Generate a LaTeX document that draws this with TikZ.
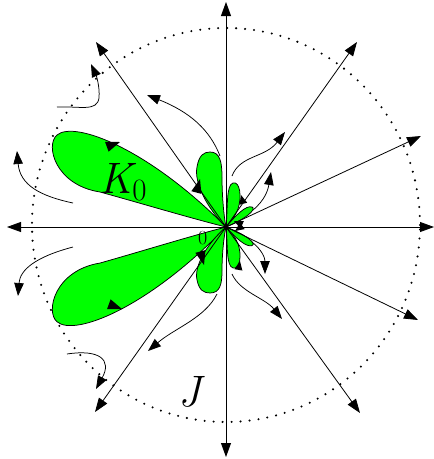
\documentclass[tikz,border=0pt]{standalone}
\usetikzlibrary{arrows.meta}
\definecolor{lobegreen}{RGB}{0,255,0}
\tikzset{
 ray/.style={line width=0.8pt, -{Triangle[length=14pt,width=10pt]}},
 flow/.style={line width=0.75pt, -{Triangle[length=13pt,width=9.5pt]}},
 lobe/.style={fill=lobegreen, draw=black, line width=0.75pt},
 dotring/.style={line width=2.3pt, dash pattern=on 0pt off 9pt, line cap=round},
 bigtri/.pic={\fill (0,0) -- (-14,5.2) -- (-14,-5.2) -- cycle;},
 smalltri/.pic={\fill (0,0) -- (-9,4) -- (-9,-4) -- cycle;},
}
\begin{document}
\begin{tikzpicture}[x=1pt,y=-1pt]
\useasboundingbox (0,0) rectangle (434,459);
\coordinate (O) at (226,227);
% dotted circle
\draw[dotring] (226,225) ellipse [x radius=194pt, y radius=197pt];
% lobes
\begin{scope}[shift={(O)}]
 \path[lobe] (0,0) .. controls (-76,-77) and (-151,-107) .. (-169,-92)
   .. controls (-181,-82) and (-171,-42) .. (-126,-35)
   .. controls (-86,-24) and (-36,-9) .. (0,0);
 \path[lobe] (0,0) .. controls (-20,-20) and (-32,-45) .. (-29,-60)
   .. controls (-27,-72) and (-22,-75) .. (-16,-75)
   .. controls (-6,-75) and (-4,-65) .. (-4,-50)
   .. controls (-4,-30) and (-2,-10) .. (0,0);
 \path[lobe] (0,0) .. controls (2,-20) and (0,-42) .. (7,-44)
   .. controls (14,-46) and (16,-30) .. (12,-18)
   .. controls (8,-8) and (3,-3) .. (0,0);
 \path[lobe] (0,0) .. controls (10,-12) and (20,-22) .. (26,-20)
   .. controls (31,-18) and (20,-8) .. (0,0);
\end{scope}
\begin{scope}[shift={(O)}, yscale=-1.03]
 \path[lobe] (0,0) .. controls (-76,-77) and (-151,-107) .. (-169,-92)
   .. controls (-181,-82) and (-171,-42) .. (-126,-35)
   .. controls (-86,-24) and (-36,-9) .. (0,0);
\end{scope}
\begin{scope}[shift={(O)}, yscale=-0.88]
 \path[lobe] (0,0) .. controls (-20,-20) and (-32,-45) .. (-29,-60)
   .. controls (-27,-72) and (-22,-75) .. (-16,-75)
   .. controls (-6,-75) and (-4,-65) .. (-4,-50)
   .. controls (-4,-30) and (-2,-10) .. (0,0);
\end{scope}
\begin{scope}[shift={(O)}, yscale=-0.93]
 \path[lobe] (0,0) .. controls (2,-20) and (0,-42) .. (7,-44)
   .. controls (14,-46) and (16,-30) .. (12,-18)
   .. controls (8,-8) and (3,-3) .. (0,0);
 \path[lobe] (0,0) .. controls (10,-12) and (20,-22) .. (26,-20)
   .. controls (31,-18) and (20,-8) .. (0,0);
\end{scope}
% axes and rays
\coordinate (axL) at (7,227);
\coordinate (axR) at (434,227);
\coordinate (axT) at (226,2);
\coordinate (axB) at (226,457);
\coordinate (r125) at (96,42);
\coordinate (r55) at (357,42);
\coordinate (r25) at (421,136);
\coordinate (rm25) at (418,320);
\coordinate (rm55) at (360,413);
\coordinate (rm125) at (95,412);
\foreach \e in {axL,axR,axT,axB,r125,r55,r25,rm25,rm55,rm125}
  \draw[ray] (O) -- (\e);
% flow curves
\coordinate (c1s) at (220,156); \coordinate (c1e) at (147,95);
\coordinate (c2s) at (57,107);  \coordinate (c2e) at (91,64);
\coordinate (c3s) at (73,203);  \coordinate (c3e) at (17,151);
\coordinate (c4s) at (73,247);  \coordinate (c4e) at (18,296);
\coordinate (c5s) at (67,354);  \coordinate (c5e) at (96,389);
\coordinate (c6s) at (217,294); \coordinate (c6e) at (148,351);
\coordinate (c7s) at (232,274); \coordinate (c7e) at (282,319);
\coordinate (c8s) at (252,242); \coordinate (c8e) at (265,274);
\coordinate (c9s) at (232,176); \coordinate (c9e) at (285,132);
\coordinate (c10s) at (253,210); \coordinate (c10e) at (271,172);
\draw[flow] (c1s) .. controls (210,130) and (190,112) .. (c1e);
\draw[flow] (c2s) .. controls (80,106) and (97,112) .. (99,98) .. controls (100,86) and (96,75) .. (c2e);
\draw[flow] (c3s) .. controls (40,196) and (20,185) .. (c3e);
\draw[flow] (c4s) .. controls (35,257) and (20,270) .. (c4e);
\draw[flow] (c5s) .. controls (100,349) and (112,360) .. (c5e);
\draw[flow] (c6s) .. controls (205,318) and (175,328) .. (c6e);
\draw[flow] (c7s) .. controls (240,292) and (265,298) .. (c7e);
\draw[flow] (c8s) .. controls (262,250) and (265,258) .. (c8e);
\draw[flow] (c9s) .. controls (240,155) and (265,158) .. (c9e);
\draw[flow] (c10s) .. controls (265,200) and (268,190) .. (c10e);
% arrowheads on lobes
\pic[rotate=20] at (120,142) {bigtri};
\pic[rotate=-20] at (122,309) {bigtri};
\pic[rotate=75] at (200,179) {bigtri};
\pic[rotate=-75] at (204,265) {bigtri};
\pic[rotate=105] at (241,195) {smalltri};
\pic[rotate=80] at (240,261) {smalltri};
\pic[rotate=155] at (234,221) {smalltri};
\pic[rotate=-145] at (235,231) {smalltri};
% labels
\node[anchor=base west, inner sep=0, font=\fontsize{44}{50}\selectfont] (k0) at (99,193) {\itshape K\upshape\raisebox{-7pt}{\fontsize{31}{34}\selectfont 0}};
\node[anchor=base west, inner sep=0, font=\fontsize{44}{50}\selectfont] (jlab) at (178,406) {\itshape J};
\node[anchor=base west, inner sep=0, font=\fontsize{20}{24}\selectfont] (zero) at (198,244) {0};
\end{tikzpicture}
\end{document}
